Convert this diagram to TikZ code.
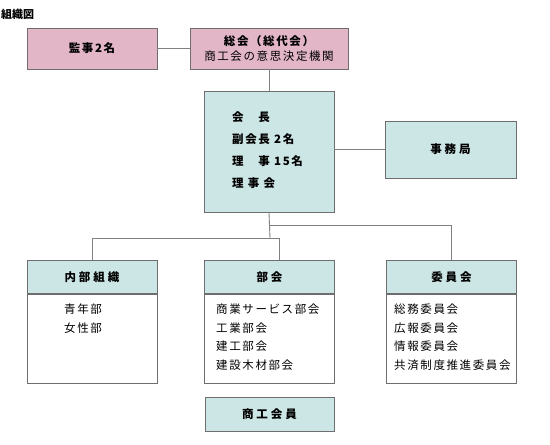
\documentclass[tikz,border=0pt]{standalone}
\usepackage{fontspec}
\newfontfamily\jpfont[LetterSpace=14]{Noto Sans CJK JP}
\newfontfamily\jpwide[LetterSpace=26]{Noto Sans CJK JP}
\newfontfamily\jpplain{Noto Sans CJK JP}
\usetikzlibrary{positioning}

\definecolor{pinkfill}{RGB}{226,182,199}
\definecolor{bluefill}{RGB}{204,229,229}
\definecolor{boxline}{RGB}{110,110,110}
\definecolor{linkgray}{RGB}{128,128,128}

\begin{document}
\begin{tikzpicture}[
    x=1pt, y=-1pt,
    font=\jpfont\fontsize{11.5}{13}\selectfont,
    box/.style={
        draw=boxline,
        line width=0.9pt,
        inner sep=0pt,
        align=center
    },
    pinkbox/.style={box, fill=pinkfill},
    bluebox/.style={box, fill=bluefill},
    head/.style={bluebox, minimum width=130, minimum height=33, anchor=north,
        font=\jpwide\bfseries\fontsize{11.5}{13}\selectfont},
    body/.style={box, fill=white, minimum width=130, minimum height=89, anchor=north},
    items/.style={inner sep=0pt, anchor=north west, align=left,
        font=\jpfont\fontsize{11.5}{18.5}\selectfont},
    link/.style={draw=linkgray, line width=0.9pt}
]
\useasboundingbox (0,0) rectangle (550,445);

\node[anchor=west, inner sep=0pt, font=\jpplain\bfseries\fontsize{11}{12}\selectfont] (title) at (1,14) {組織図};

% top row
\node[pinkbox, minimum width=130, minimum height=41, font=\jpfont\bfseries\fontsize{11.5}{13}\selectfont] (kansa) at (92,48.5) {監事2名};
\node[pinkbox, minimum width=158, minimum height=41] (sokai) at (269,48.5)
    {{\bfseries 総会（総代会）}\\[2pt]商工会の意思決定機関};

% board
\node[bluebox, minimum width=130, minimum height=121, anchor=north] (kaicho) at (269,91) {};
\node[items, font=\jpfont\bfseries\fontsize{11.5}{22}\selectfont] (kaicholist) at (232,111)
    {会　長\\副会長 2名\\理　事 15名\\理 事 会};
\node[bluebox, minimum width=131, minimum height=57, font=\jpwide\bfseries\fontsize{11.5}{13}\selectfont] (jimu) at (450.5,149.5) {事務局};

% lower groups
\node[head] (naibu) at (92,260) {内部組織};
\node[body] (naibubody) at (naibu.south) {};
\node[items] (naibulist) at (64,304) {青年部\\女性部};

\node[head] (bukai) at (269.5,260) {部会};
\node[body] (bukaibody) at (bukai.south) {};
\node[items] (bukailist) at (216,304) {商業サービス部会\\工業部会\\建工部会\\建設木材部会};

\node[head] (iinkai) at (451.5,260) {委員会};
\node[body] (iinkaibody) at (iinkai.south) {};
\node[items] (iinkailist) at (394,304) {総務委員会\\広報委員会\\情報委員会\\共済制度推進委員会};

\node[bluebox, minimum width=129, minimum height=34, font=\jpwide\bfseries\fontsize{11.5}{13}\selectfont] (kaiin) at (269.5,414) {商工会員};

% connectors
\coordinate (fork) at (270,238);
\coordinate (branch) at (270,225);
\coordinate (bukaidrop) at (279,260);

\draw[link] (kansa.east) -- (sokai.west);
\draw[link] (sokai.south) -- (kaicho.north);
\draw[link] (jimu.west -| kaicho.east) -- (jimu.west);
\draw[link] (kaicho.south) -- (fork);
\draw[link] (naibu.north) |- (bukaidrop |- fork) -- (bukaidrop);
\draw[link] (branch) -| (iinkai.north);

\end{tikzpicture}
\end{document}
